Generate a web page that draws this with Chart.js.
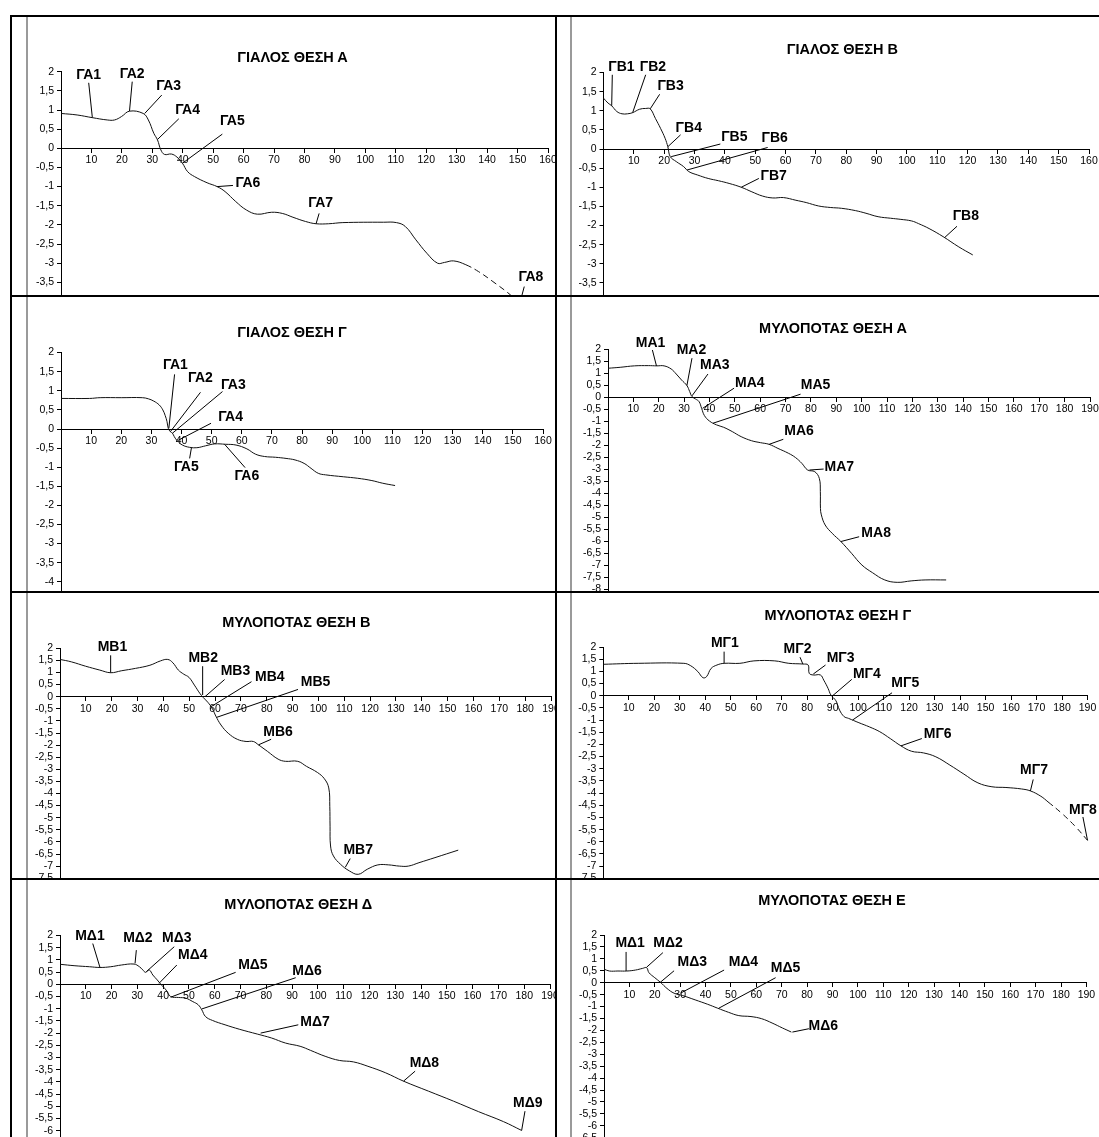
<!DOCTYPE html>
<html><head><meta charset="utf-8">
<script src="https://cdn.jsdelivr.net/npm/chart.js@4.4.1/dist/chart.umd.min.js"></script>
<style>
html,body{margin:0;padding:0;background:#fff;}
body{width:1099px;height:1137px;position:relative;overflow:hidden;font-family:"Liberation Sans",Arial,sans-serif;}
.cell{position:absolute;overflow:hidden;}
.cell canvas{position:absolute;left:0;top:0;}
.rule{position:absolute;background:#000;}
.frame{position:absolute;background:#9a9a9a;}
.ttl{position:absolute;transform:translate(-50%,-50%);font-weight:bold;font-size:14.5px;white-space:nowrap;color:#000;}
</style></head><body>
<script>
// ---------- DATA ----------
// ΓΙΑΛΟΣ ΘΕΣΗ Α
const gaA_x = [0, 5.3, 10.3, 15.2, 17.6, 19.9, 22.5, 27, 28.7, 30.5, 31.7, 32.8, 34, 36.3, 38.1, 39.9, 41.6, 43.9, 48, 51.3, 53.9, 57.4, 60.9, 64.5, 69.2, 72.7, 76.2, 80.3, 83.8, 87.9, 92.6, 106, 110.2, 113.1, 116.6, 120.2, 123.7, 126, 129, 133, 137.2, 141.9, 147.7, 152];
const gaA_y = [0.91, 0.87, 0.80, 0.74, 0.74, 0.83, 0.97, 0.91, 0.74, 0.39, 0.22, -0.04, -0.16, -0.15, -0.23, -0.39, -0.61, -0.74, -0.90, -1.0, -1.13, -1.39, -1.61, -1.72, -1.67, -1.70, -1.80, -1.91, -1.97, -1.97, -1.94, -1.93, -1.94, -2.04, -2.39, -2.74, -3.0, -2.98, -2.94, -3.04, -3.22, -3.48, -3.83, -4.15];
const gaA_dashFrom = 133;
const gaA_tags = [
  ['ΓΑ1', 9.1, 1.91, 9.1, 1.71, 10.3, 0.80],
  ['ΓΑ2', 23.4, 1.94, 23.4, 1.74, 22.5, 0.97],
  ['ΓΑ3', 35.4, 1.63, 33.1, 1.39, 27.5, 0.91],
  ['ΓΑ4', 41.6, 1.0, 38.7, 0.77, 31.7, 0.23],
  ['ΓΑ5', 56.3, 0.70, 53, 0.37, 39.9, -0.39],
  ['ΓΑ6', 61.4, -0.91, 56.5, -0.97, 51.3, -1.0],
  ['ΓΑ7', 85.3, -1.43, 84.8, -1.70, 83.8, -1.97],
  ['ΓΑ8', 154.4, -3.37, 152.2, -3.61, 151.2, -3.91]
];
// ΓΙΑΛΟΣ ΘΕΣΗ Β
const gaB_x = [0, 1.5, 2.7, 4.4, 6.1, 7.9, 9.6, 11.9, 13.9, 15.4, 17.1, 18.8, 20.3, 21.2, 22, 24, 26.4, 28.1, 31, 34.5, 37.9, 41.4, 45.4, 48.9, 52.4, 55.8, 59.3, 63.4, 66.8, 70.9, 74.9, 78.4, 83, 86.5, 90.5, 94.6, 98, 101.5, 103.8, 107.3, 111.9, 117.1, 121.7];
const gaB_y = [1.33, 1.20, 1.13, 0.98, 0.92, 0.92, 0.95, 1.04, 1.06, 1.05, 0.80, 0.54, 0.28, 0.06, -0.20, -0.33, -0.46, -0.59, -0.68, -0.77, -0.83, -0.90, -1.00, -1.12, -1.23, -1.28, -1.27, -1.34, -1.40, -1.49, -1.53, -1.55, -1.61, -1.68, -1.77, -1.81, -1.84, -1.88, -1.95, -2.08, -2.29, -2.56, -2.77];
const gaB_tags = [
  ['ΓΒ1', 5.9, 2.13, 2.9, 1.94, 2.7, 1.13],
  ['ΓΒ2', 16.3, 2.13, 13.9, 1.94, 9.6, 0.95],
  ['ΓΒ3', 22.1, 1.65, 18.5, 1.43, 15.4, 1.05],
  ['ΓΒ4', 28.1, 0.54, 25.4, 0.37, 21.2, 0.06],
  ['ΓΒ5', 43.1, 0.32, 38.5, 0.13, 22.3, -0.20],
  ['ΓΒ6', 56.4, 0.28, 54.1, 0.04, 27.5, -0.55],
  ['ΓΒ7', 56.1, -0.71, 51.2, -0.77, 45.4, -1.0],
  ['ΓΒ8', 119.4, -1.75, 116.5, -2.02, 112.5, -2.31]
];
// ΓΙΑΛΟΣ ΘΕΣΗ Γ
const gaG_x = [0, 9.5, 13, 20, 27, 29, 30.8, 32.6, 33.8, 34.6, 35.2, 35.6, 36.3, 37, 37.6, 38.6, 40.3, 42.7, 45.1, 48, 51, 54.6, 58.1, 61.7, 64.6, 67.6, 71.2, 74.7, 77.7, 80.7, 83, 85.4, 87.8, 93.7, 98.5, 103.2, 106.8, 110.9];
const gaG_y = [0.80, 0.80, 0.82, 0.82, 0.82, 0.79, 0.73, 0.63, 0.50, 0.35, 0.19, 0.02, -0.07, -0.11, -0.20, -0.31, -0.42, -0.48, -0.49, -0.44, -0.39, -0.40, -0.42, -0.52, -0.66, -0.72, -0.74, -0.77, -0.81, -0.90, -1.03, -1.16, -1.20, -1.25, -1.29, -1.35, -1.42, -1.48];
const gaG_tags = [
  ['ΓΑ1', 38, 1.68, 37.7, 1.43, 35.8, 0.02],
  ['ΓΑ2', 46.3, 1.34, 46.3, 0.96, 36.3, -0.07],
  ['ΓΑ3', 57.2, 1.15, 53.6, 0.98, 37, -0.11],
  ['ΓΑ4', 56.3, 0.30, 49.8, 0.15, 38.8, -0.30],
  ['ΓΑ5', 41.6, -0.99, 42.7, -0.77, 43.3, -0.49],
  ['ΓΑ6', 61.7, -1.23, 61.1, -1.01, 54.3, -0.40]
];
// ΜΥΛΟΠΟΤΑΣ ΘΕΣΗ Α
const myA_x = [0, 4.8, 10.4, 15.9, 19.3, 22.1, 24.9, 26.9, 29, 31.1, 32.2, 33.1, 34.5, 35.9, 36.9, 38, 40, 42.8, 45.6, 49, 52.5, 56.6, 60.1, 63.5, 67, 71.1, 73.9, 76.4, 78.7, 81.5, 83.3, 83.7, 83.75, 84.1, 85.6, 88.4, 91.8, 96, 100.1, 104.3, 109.1, 114, 119.5, 125, 133.3];
const myA_y = [1.21, 1.25, 1.31, 1.32, 1.31, 1.31, 1.18, 0.97, 0.72, 0.49, 0.24, 0.03, -0.07, -0.18, -0.46, -0.76, -0.99, -1.15, -1.25, -1.43, -1.64, -1.81, -1.89, -1.96, -2.13, -2.33, -2.51, -2.75, -3.03, -3.10, -3.38, -3.93, -4.63, -4.90, -5.32, -5.67, -6.01, -6.5, -6.99, -7.31, -7.61, -7.71, -7.65, -7.61, -7.61];
const myA_tags = [
  ['ΜΑ1', 16.8, 2.25, 17.5, 1.97, 19.1, 1.31],
  ['ΜΑ2', 32.9, 1.97, 33.1, 1.63, 31.1, 0.49],
  ['ΜΑ3', 42.1, 1.32, 39.4, 0.97, 33.1, 0.06],
  ['ΜΑ4', 55.9, 0.61, 49.7, 0.38, 37.3, -0.46],
  ['ΜΑ5', 81.8, 0.49, 75.9, 0.13, 41.4, -1.08],
  ['ΜΑ6', 75.3, -1.43, 69.1, -1.75, 63.5, -1.96],
  ['ΜΑ7', 91.2, -2.93, 85, -2.99, 79.4, -3.03],
  ['ΜΑ8', 105.7, -5.64, 99, -5.81, 91.8, -6.01]
];
// ΜΥΛΟΠΟΤΑΣ ΘΕΣΗ Β
const myB_x = [0, 4.4, 9.9, 15.4, 19.6, 23.7, 29.2, 34.8, 38.9, 41.7, 43.7, 45.8, 47.9, 49.9, 52, 54.1, 55.4, 57.2, 58.9, 60.3, 62.3, 65.1, 68.6, 72, 74.8, 76.8, 80.3, 84.4, 87.2, 92, 95.4, 99.6, 102.3, 104, 104.4, 104.5, 104.7, 105.8, 108.6, 112, 115.4, 118.9, 123, 127.2, 131.3, 134.8, 138.9, 145.1, 154.1];
const myB_y = [1.54, 1.44, 1.26, 1.10, 0.99, 1.07, 1.17, 1.30, 1.48, 1.54, 1.40, 1.10, 0.93, 0.80, 0.48, 0.14, -0.03, -0.23, -0.48, -0.80, -1.17, -1.51, -1.76, -1.85, -1.85, -1.99, -2.26, -2.58, -2.67, -2.67, -2.88, -3.13, -3.39, -3.77, -4.53, -5.35, -6.17, -6.58, -6.93, -7.2, -7.34, -7.13, -6.95, -6.95, -7.0, -7.0, -6.86, -6.65, -6.34];
const myB_tags = [
  ['ΜΒ1', 20.3, 2.03, 19.6, 1.71, 19.6, 0.99],
  ['ΜΒ2', 55.4, 1.58, 55.2, 1.26, 55.2, 0.07],
  ['ΜΒ3', 67.9, 1.07, 63.7, 0.71, 56.1, 0.0],
  ['ΜΒ4', 81.2, 0.82, 74.1, 0.62, 58.5, -0.41],
  ['ΜΒ5', 98.9, 0.62, 92.1, 0.30, 60.7, -0.85],
  ['ΜΒ6', 84.4, -1.48, 81.7, -1.76, 76.8, -1.99],
  ['ΜΒ7', 115.4, -6.34, 112.3, -6.69, 110.4, -7.05]
];
// ΜΥΛΟΠΟΤΑΣ ΘΕΣΗ Γ
const myG_x = [0, 13.7, 31.6, 34.3, 37.1, 39.1, 40.5, 42.3, 44.6, 47.4, 53.6, 59.1, 67.3, 72.8, 78.3, 80.4, 80.8, 82.4, 85.2, 86.5, 88.2, 89.3, 91.3, 92.7, 94.5, 96.2, 100.3, 104.4, 108.5, 112.6, 116.8, 120.9, 125.7, 130.5, 136, 141.5, 147, 152.5, 158, 164.1, 167.6, 171.7, 174.5, 180, 185.4, 190];
const myG_y = [1.29, 1.33, 1.33, 1.23, 0.99, 0.74, 0.78, 1.12, 1.26, 1.33, 1.33, 1.43, 1.43, 1.33, 1.30, 1.26, 0.92, 0.85, 0.85, 0.64, 0.30, 0.03, -0.21, -0.59, -0.86, -0.93, -1.11, -1.28, -1.48, -1.76, -2.06, -2.28, -2.35, -2.51, -2.85, -3.22, -3.58, -3.74, -3.77, -3.83, -3.91, -4.13, -4.36, -4.84, -5.39, -5.94];
const myG_dashFrom = 172;
const myG_tags = [
  ['ΜΓ1', 47.7, 2.15, 47.4, 1.81, 47.4, 1.33],
  ['ΜΓ2', 76.2, 1.91, 77.2, 1.58, 78.3, 1.30],
  ['ΜΓ3', 93.1, 1.56, 87.2, 1.26, 82.4, 0.89],
  ['ΜΓ4', 103.4, 0.88, 97.5, 0.67, 90, 0.0],
  ['ΜΓ5', 118.5, 0.51, 113.3, 0.12, 97.8, -1.0],
  ['ΜΓ6', 131.2, -1.58, 125, -1.76, 116.8, -2.06],
  ['ΜΓ7', 169, -3.06, 168.7, -3.44, 167.6, -3.91],
  ['ΜΓ8', 188.2, -4.68, 188.2, -4.98, 190, -5.94]
];
// ΜΥΛΟΠΟΤΑΣ ΘΕΣΗ Δ
const myD_x = [0, 5.8, 11.4, 15.5, 19.7, 23.8, 28.7, 30.8, 32.1, 33.2, 34.6, 36, 37.7, 39.1, 41.1, 42.9, 46, 48.8, 51.5, 53.6, 55, 56.4, 59.1, 64, 69.5, 76.5, 82, 87.5, 93.1, 97.2, 102.8, 108.3, 113.8, 119.4, 126.3, 133.2, 142.9, 152.6, 162.3, 172, 179];
const myD_y = [0.82, 0.76, 0.72, 0.69, 0.72, 0.79, 0.83, 0.72, 0.59, 0.49, 0.59, 0.38, 0.18, 0.0, -0.23, -0.50, -0.54, -0.57, -0.71, -0.84, -1.05, -1.32, -1.48, -1.66, -1.84, -2.04, -2.2, -2.41, -2.54, -2.71, -2.95, -3.12, -3.18, -3.36, -3.63, -3.97, -4.38, -4.79, -5.22, -5.63, -5.99];
const myD_tags = [
  ['ΜΔ1', 11.6, 1.97, 12.7, 1.67, 15.5, 0.69],
  ['ΜΔ2', 30.2, 1.88, 29.6, 1.40, 29.1, 0.86],
  ['ΜΔ3', 45.3, 1.88, 44.3, 1.54, 33.5, 0.52],
  ['ΜΔ4', 51.5, 1.20, 45.3, 0.79, 38.4, 0.04],
  ['ΜΔ5', 74.8, 0.79, 68.1, 0.49, 42.9, -0.53],
  ['ΜΔ6', 95.8, 0.54, 91.4, 0.27, 55, -1.01],
  ['ΜΔ7', 98.9, -1.56, 92.4, -1.66, 77.8, -2.0],
  ['ΜΔ8', 141.3, -3.22, 137.7, -3.56, 133.2, -3.97],
  ['ΜΔ9', 181.4, -4.86, 180.3, -5.2, 179, -5.99]
];
// ΜΥΛΟΠΟΤΑΣ ΘΕΣΗ Ε
const myE_x = [0, 2.1, 5.5, 9, 12.4, 15.2, 16.8, 17.7, 20, 22.3, 24.8, 27.6, 31, 35.9, 40.7, 44.8, 49, 53.1, 57.9, 62.1, 66.2, 70.3, 73.8];
const myE_y = [0.57, 0.49, 0.49, 0.49, 0.53, 0.60, 0.63, 0.42, 0.21, 0.01, -0.24, -0.44, -0.54, -0.72, -0.9, -1.07, -1.24, -1.38, -1.42, -1.51, -1.69, -1.90, -2.07];
const myE_tags = [
  ['ΜΔ1', 10.3, 1.64, 8.7, 1.29, 8.7, 0.49],
  ['ΜΔ2', 25.2, 1.64, 23.2, 1.26, 16.8, 0.65],
  ['ΜΔ3', 34.8, 0.85, 27.6, 0.5, 22.1, 0.01],
  ['ΜΔ4', 54.9, 0.85, 47.3, 0.53, 30.1, -0.44],
  ['ΜΔ5', 71.5, 0.6, 67.6, 0.21, 45.2, -1.07],
  ['ΜΔ6', 86.4, -1.83, 80.7, -1.93, 74.2, -2.07]
];
const titles = ['ΓΙΑΛΟΣ ΘΕΣΗ Α', 'ΓΙΑΛΟΣ ΘΕΣΗ Β', 'ΓΙΑΛΟΣ ΘΕΣΗ Γ', 'ΜΥΛΟΠΟΤΑΣ ΘΕΣΗ Α', 'ΜΥΛΟΠΟΤΑΣ ΘΕΣΗ Β', 'ΜΥΛΟΠΟΤΑΣ ΘΕΣΗ Γ', 'ΜΥΛΟΠΟΤΑΣ ΘΕΣΗ Δ', 'ΜΥΛΟΠΟΤΑΣ ΘΕΣΗ Ε'];

// ---------- LAYOUT ----------
const FONT = '"Liberation Sans", Arial, sans-serif';
const YW = 36;
const panels = [
  {xs: gaA_x, ys: gaA_y, tags: gaA_tags, dashFrom: gaA_dashFrom, xMax: 160, yMin: -4,
   cell: [13, 18, 542, 277], x0: 61, xEnd: 548, y2: 71.7, y0: 148.3, tAt: [292.5, 56.7]},
  {xs: gaB_x, ys: gaB_y, tags: gaB_tags, dashFrom: Infinity, xMax: 160, yMin: -4,
   cell: [557, 18, 542, 277], x0: 603.5, xEnd: 1089, y2: 72.5, y0: 149, tAt: [842.4, 49.3]},
  {xs: gaG_x, ys: gaG_y, tags: gaG_tags, dashFrom: Infinity, xMax: 160, yMin: -4.5,
   cell: [13, 297, 542, 294], x0: 61, xEnd: 543, y2: 352.6, y0: 429, tAt: [292, 331.7]},
  {xs: myA_x, ys: myA_y, tags: myA_tags, dashFrom: Infinity, xMax: 190, yMin: -8.5,
   cell: [557, 297, 542, 294], x0: 608, xEnd: 1090, y2: 349.3, y0: 397.3, tAt: [833, 328.3]},
  {xs: myB_x, ys: myB_y, tags: myB_tags, dashFrom: Infinity, xMax: 190, yMin: -8,
   cell: [13, 593, 542, 285], x0: 60, xEnd: 551, y2: 648.3, y0: 696.7, tAt: [296.4, 621.7]},
  {xs: myG_x, ys: myG_y, tags: myG_tags, dashFrom: myG_dashFrom, xMax: 190, yMin: -8,
   cell: [557, 593, 542, 285], x0: 603.3, xEnd: 1087.5, y2: 647, y0: 695.7, tAt: [837.8, 615]},
  {xs: myD_x, ys: myD_y, tags: myD_tags, dashFrom: Infinity, xMax: 190, yMin: -7,
   cell: [13, 880, 542, 257], x0: 60, xEnd: 550, y2: 935.5, y0: 984.3, tAt: [298.2, 904.3]},
  {xs: myE_x, ys: myE_y, tags: myE_tags, dashFrom: Infinity, xMax: 190, yMin: -7,
   cell: [557, 880, 542, 257], x0: 604, xEnd: 1086.4, y2: 935, y0: 982.7, tAt: [832, 900]}
];

const tagPlugin = {
  id: 'tagLabels',
  afterDatasetsDraw(chart, args, opts) {
    const {ctx} = chart; const xs = chart.scales.x, ys = chart.scales.y;
    ctx.save();
    ctx.strokeStyle = '#000'; ctx.lineWidth = 1;
    ctx.font = 'bold 14px ' + FONT; ctx.fillStyle = '#000';
    ctx.textAlign = 'center'; ctx.textBaseline = 'middle';
    for (const t of opts.tags || []) {
      const [name, lx, ly, sx, sy, ax, ay] = t;
      ctx.beginPath();
      ctx.moveTo(xs.getPixelForValue(sx), ys.getPixelForValue(sy));
      ctx.lineTo(xs.getPixelForValue(ax), ys.getPixelForValue(ay));
      ctx.stroke();
      ctx.fillText(name, xs.getPixelForValue(lx), ys.getPixelForValue(ly));
    }
    ctx.restore();
  }
};

panels.forEach((p, i) => {
  const [cl, ct, cw, ch] = p.cell;
  const div = document.createElement('div');
  div.className = 'cell';
  div.style.cssText = `left:${cl}px;top:${ct}px;width:${cw}px;height:${ch}px;`;
  document.body.appendChild(div);
  const unit = (p.y0 - p.y2) / 2;
  const bottomPx = p.y0 - p.yMin * unit;
  const W = Math.round(p.xEnd - cl + 26);
  const H = Math.round(bottomPx - ct + 12);
  const cv = document.createElement('canvas');
  cv.width = W; cv.height = H; cv.style.width = W + 'px'; cv.style.height = H + 'px';
  div.appendChild(cv);
  const dash = p.dashFrom;
  new Chart(cv, {
    type: 'line',
    data: {datasets: [{
      data: p.xs.map((x, k) => ({x: x, y: p.ys[k]})),
      borderColor: '#111', borderWidth: 1, pointRadius: 0, fill: false,
      tension: 0.4, clip: false,
      segment: {borderDash: c => (c.p0.parsed.x >= dash ? [6, 4] : undefined)}
    }]},
    options: {
      responsive: false, animation: false, devicePixelRatio: 1,
      layout: {padding: {left: p.x0 - cl - YW, top: p.y2 - ct, right: W - (p.xEnd - cl), bottom: H - (bottomPx - ct)}},
      plugins: {legend: {display: false}, tooltip: {enabled: false}, title: {display: false},
        tagLabels: {tags: p.tags}},
      scales: {
        x: {type: 'linear', min: 0, max: p.xMax, position: {y: 0},
          ticks: {stepSize: 10, autoSkip: false, maxRotation: 0, padding: 2, color: '#000',
            font: {size: 10.5, family: FONT}, callback: v => (v === 0 ? '' : String(v))},
          grid: {display: true, drawOnChartArea: false, drawTicks: true, tickLength: 4, color: '#000'},
          border: {display: true, color: '#000', width: 1}},
        y: {type: 'linear', min: p.yMin, max: 2, position: 'left',
          afterFit: s => { s.width = YW; },
          ticks: {stepSize: 0.5, autoSkip: false, padding: 3, color: '#000',
            font: {size: 10.5, family: FONT}, callback: v => String(v).replace('.', ',')},
          grid: {display: true, drawOnChartArea: false, drawTicks: true, tickLength: 4, color: '#000'},
          border: {display: true, color: '#000', width: 1}}
      }
    },
    plugins: [tagPlugin]
  });
  const t = document.createElement('div');
  t.className = 'ttl'; t.textContent = titles[i];
  t.style.left = p.tAt[0] + 'px'; t.style.top = p.tAt[1] + 'px';
  document.body.appendChild(t);
});

// frames and rules
function box(cls, l, t, w, h) {
  const d = document.createElement('div'); d.className = cls;
  d.style.cssText = `left:${l}px;top:${t}px;width:${w}px;height:${h}px;`;
  document.body.appendChild(d);
}
box('frame', 26, 17, 2, 1120);
box('frame', 570, 17, 2, 1120);
box('rule', 10, 15, 1089, 2);
box('rule', 10, 15, 2, 1122);
box('rule', 555, 15, 2, 1122);
box('rule', 10, 295, 1089, 2);
box('rule', 10, 591, 1089, 2);
box('rule', 10, 878, 1089, 2);
</script>
</body></html>
